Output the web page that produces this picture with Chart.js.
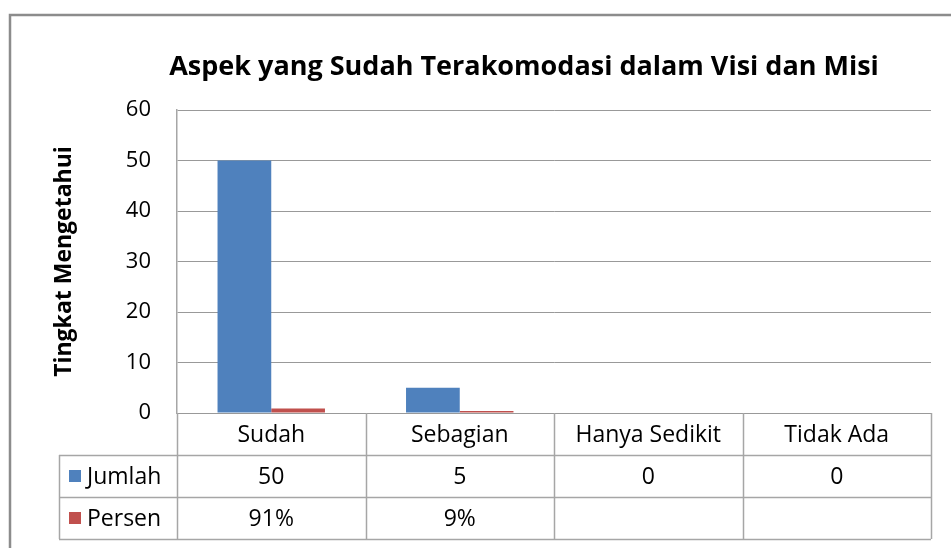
<!DOCTYPE html>
<html>
<head>
<meta charset="utf-8">
<script src="https://cdn.jsdelivr.net/npm/chart.js@4/dist/chart.umd.min.js"></script>
<style>
  html, body { margin: 0; padding: 0; background: #fff; }
  #wrap { width: 951px; height: 548px; position: relative; }
</style>
</head>
<body>
<div id="wrap"><canvas id="myChart"></canvas></div>
<script>
"use strict";

const categories = ['Sudah', 'Sebagian', 'Hanya Sedikit', 'Tidak Ada'];
const jumlah = [50, 5, 0, 0];
const persen = [0.91, 0.09, null, null];
const seriesNames = ['Jumlah', 'Persen'];
const seriesColors = ['#4F81BD', '#C0504D'];
const yTicks = [0, 10, 20, 30, 40, 50, 60];
const chartTitle = 'Aspek yang Sudah Terakomodasi dalam Visi dan Misi';
const yTitle = 'Tingkat Mengetahui';

const FONT = '"Open Sans", Lato, sans-serif';
const lineGray = '#A6A6A6';

// table rows under the plot, text comes from the arrays above
function tableRows() {
  return [
    jumlah.map(v => v === null ? '' : String(v)),
    persen.map(v => v === null ? '' : Math.round(v * 100) + '%')
  ];
}

const frameAndTable = {
  id: 'frameAndTable',
  beforeDraw(chart) {
    const ctx = chart.ctx;
    ctx.save();
    ctx.fillStyle = '#fff';
    ctx.fillRect(0, 0, chart.width, chart.height);
    // outer chart frame
    ctx.strokeStyle = '#8C8C8C';
    ctx.lineWidth = 2.5;
    ctx.beginPath();
    ctx.moveTo(10, chart.height + 2);
    ctx.lineTo(10, 15);
    ctx.lineTo(chart.width + 2, 15);
    ctx.stroke();
    // title
    ctx.fillStyle = '#000';
    ctx.font = 'bold 27px ' + FONT;
    ctx.textAlign = 'center';
    ctx.textBaseline = 'middle';
    ctx.fillText(chartTitle, 524, 67);
    ctx.restore();
  },
  afterDraw(chart) {
    const ctx = chart.ctx;
    const x = chart.scales.x;
    const area = chart.chartArea;
    const n = categories.length;
    const colW = (area.right - area.left) / n;
    const rowH = 42;
    const top = area.bottom;
    const tableLeft = 59;
    const rows = tableRows();

    ctx.save();
    ctx.strokeStyle = lineGray;
    ctx.lineWidth = 1.5;
    ctx.beginPath();
    // horizontal lines
    for (let r = 1; r <= 3; r++) {
      const yy = Math.round(top + rowH * r) + 0.5;
      ctx.moveTo(tableLeft, yy);
      ctx.lineTo(area.right, yy);
    }
    // vertical lines
    ctx.moveTo(tableLeft + 0.5, top + rowH);
    ctx.lineTo(tableLeft + 0.5, top + rowH * 3);
    for (let i = 0; i <= n; i++) {
      const xx = Math.round(area.left + colW * i) + 0.5;
      ctx.moveTo(xx, top);
      ctx.lineTo(xx, top + rowH * 3);
    }
    ctx.stroke();

    ctx.fillStyle = '#000';
    ctx.font = '23px ' + FONT;
    ctx.textAlign = 'center';
    ctx.textBaseline = 'middle';
    categories.forEach((c, i) => {
      ctx.fillText(c, x.getPixelForValue(i), top + rowH / 2 + 1);
    });
    rows.forEach((row, r) => {
      row.forEach((t, i) => {
        ctx.fillText(t, x.getPixelForValue(i), top + rowH * (r + 1.5) + 1);
      });
      // legend key + series name
      const cy = top + rowH * (r + 1.5);
      ctx.fillStyle = seriesColors[r];
      ctx.fillRect(69, Math.round(cy - 6), 12, 12);
      ctx.fillStyle = '#000';
      ctx.textAlign = 'left';
      ctx.fillText(seriesNames[r], 87, cy + 1);
      ctx.textAlign = 'center';
    });
    ctx.restore();
  }
};

const ctx = document.getElementById('myChart').getContext('2d');
const chart = new Chart(ctx, {
  type: 'bar',
  data: {
    labels: categories,
    datasets: [
      { label: seriesNames[0], data: jumlah, backgroundColor: seriesColors[0] },
      { label: seriesNames[1], data: persen, backgroundColor: seriesColors[1], minBarLength: 2 }
    ]
  },
  options: {
    responsive: true,
    maintainAspectRatio: false,
    animation: false,
    devicePixelRatio: 1,
    layout: { padding: { left: 51, top: 110, right: 20, bottom: 135 } },
    plugins: {
      legend: { display: false },
      title: { display: false },
      tooltip: { enabled: false }
    },
    datasets: {
      bar: { categoryPercentage: 0.57, barPercentage: 1 }
    },
    scales: {
      x: {
        display: false,
        offset: true
      },
      y: {
        min: 0,
        max: 60,
        afterFit(scale) { scale.width = 126; },
        afterBuildTicks(scale) { scale.ticks = yTicks.map(v => ({ value: v })); },
        grid: { color: '#999', lineWidth: 1, drawTicks: false },
        border: { color: lineGray, width: 1.5 },
        ticks: {
          padding: 26,
          color: '#000',
          font: { family: FONT, size: 22 }
        },
        title: {
          display: true,
          text: yTitle,
          color: '#000',
          padding: 0,
          font: { family: FONT, size: 23, weight: 'bold' }
        }
      }
    }
  },
  plugins: [frameAndTable]
});
</script>
</body>
</html>
